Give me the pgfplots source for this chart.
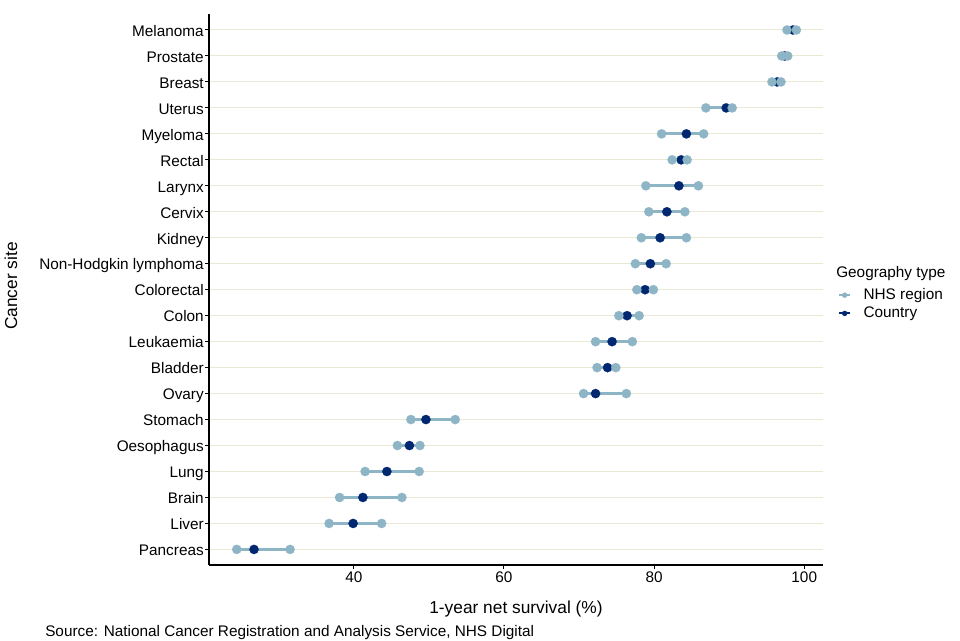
\documentclass[border=0pt]{standalone}
\usepackage{fontspec}
\setmainfont{Liberation Sans}
\usepackage{pgfplots}
\usepackage{pgfplotstable}
\pgfplotsset{compat=1.18}

\definecolor{regionc}{RGB}{141,181,198}
\definecolor{countryc}{RGB}{0,40,112}
\definecolor{gridc}{RGB}{233,234,214}

% 1-year net survival (%): lowest and highest NHS region, and the country figure
\pgfplotstableread{
idx site lo hi country
0 Pancreas 24.4 31.5 26.7
1 Liver 36.7 43.7 39.9
2 Brain 38.1 46.4 41.2
3 Lung 41.5 48.7 44.4
4 Oesophagus 45.8 48.8 47.4
5 Stomach 47.6 53.5 49.6
6 Ovary 70.6 76.3 72.2
7 Bladder 72.4 74.9 73.8
8 Leukaemia 72.2 77.1 74.4
9 Colon 75.3 78.0 76.4
10 Colorectal 77.7 79.9 78.8
11 {Non-Hodgkin lymphoma} 77.5 81.6 79.5
12 Kidney 78.3 84.3 80.8
13 Cervix 79.3 84.1 81.7
14 Larynx 78.9 85.9 83.3
15 Rectal 82.4 84.4 83.6
16 Myeloma 81.0 86.6 84.3
17 Uterus 86.9 90.4 89.6
18 Breast 95.7 96.9 96.4
19 Prostate 97.0 97.8 97.4
20 Melanoma 97.7 98.95 98.5
}\survival

\newcommand{\ticksize}{\fontsize{11.5}{13}\selectfont}
\newcommand{\titlesize}{\fontsize{13}{15}\selectfont}

\begin{document}
\begin{tikzpicture}[x=0.75pt,y=0.75pt]
\useasboundingbox (0,0) rectangle (960,640);
\begin{axis}[
  at={(156.75pt,56.25pt)}, anchor=south west,
  scale only axis, width=460.5pt, height=412.95pt,
  xmin=20.7, xmax=102.5, ymin=-0.6, ymax=20.6,
  axis x line*=bottom, axis y line*=left,
  axis line style={line width=0.9pt, black},
  xtick={40,60,80,100},
  ytick={0,...,20},
  yticklabels from table={\survival}{site},
  tick align=outside, major tick length=2.75pt,
  tick style={line width=0.75pt, black},
  ymajorgrids, grid style={line width=0.75pt, gridc},
  /pgf/number format/assume math mode=true,
  ticklabel style={font=\ticksize, inner sep=0pt, text height=8.2pt, text depth=0pt},
  yticklabel style={anchor=east, xshift=-1pt, yshift=-0.6pt},
  xticklabel style={anchor=north, yshift=-2pt},
  legend cell align=left,
  legend image code/.code={%
    \draw[mark repeat=2, mark phase=2, #1] plot coordinates {(0pt,0pt) (4.1pt,0pt) (8.25pt,0pt)};
    \path (15.5pt,0pt);},
  legend style={at={(axis description cs:1.0244,0.5073)}, anchor=north west,
    draw=none, fill=none, inner sep=0pt, row sep=0pt, font=\ticksize},
]
\addlegendimage{regionc, line width=1.5pt, mark=*, mark size=1.9pt, mark options={solid, line width=0.2pt}}
\addlegendentry{NHS region}
\addlegendimage{countryc, line width=1.5pt, mark=*, mark size=1.9pt, mark options={solid, line width=0.2pt}}
\addlegendentry{Country}

% range between the lowest and highest NHS region
\addplot[forget plot, only marks, mark=none,
  error bars/.cd, x dir=plus, x explicit, error mark=none,
  error bar style={line width=2.25pt, regionc}]
  table[x=lo, y=idx, x error expr=\thisrow{hi}-\thisrow{lo}] {\survival};
% country value
\addplot[forget plot, only marks, mark=*, mark size=3.5pt, countryc,
  mark options={line width=0.1pt}]
  table[x=country, y=idx] {\survival};
% NHS region extremes
\addplot[forget plot, only marks, mark=*, mark size=3.5pt, regionc,
  mark options={line width=0.1pt}]
  table[x=lo, y=idx] {\survival};
\addplot[forget plot, only marks, mark=*, mark size=3.5pt, regionc,
  mark options={line width=0.1pt}]
  table[x=hi, y=idx] {\survival};
\end{axis}

\node[font=\ticksize, anchor=base west, inner sep=0pt] at (836,362) {Geography type};
\node[font=\titlesize, anchor=base, inner sep=0pt] at (516,27) {1-year net survival (\%)};
\node[font=\titlesize, anchor=base, inner sep=0pt, rotate=90] at (17,354) {Cancer site};
\node[font=\ticksize, anchor=base west, inner sep=0pt] at (45,4) {Source: National Cancer Registration and Analysis Service, NHS Digital};
\end{tikzpicture}
\end{document}
